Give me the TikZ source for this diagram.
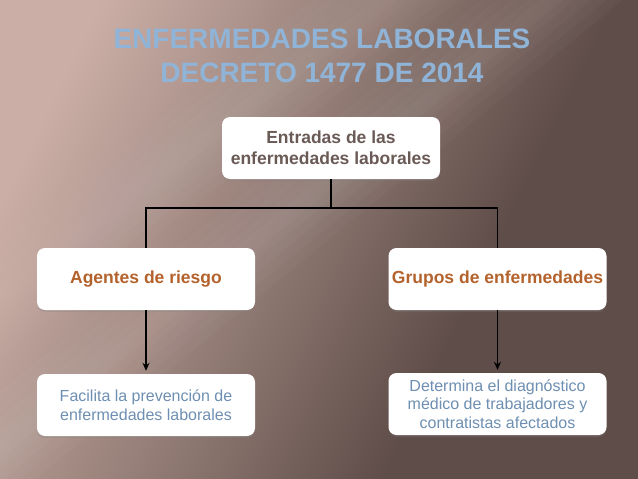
\documentclass[tikz,border=0pt]{standalone}
\usepackage{fontspec}
\setmainfont{Liberation Sans}
\usetikzlibrary{arrows.meta,shadows,calc}
\definecolor{bglight}{HTML}{CBAFA7}
\definecolor{bgmid}{HTML}{978079}
\definecolor{bgdark}{HTML}{5F4D49}
\definecolor{titleblue}{HTML}{90B4D7}
\definecolor{boxtext}{HTML}{6A5A56}
\definecolor{orangetext}{HTML}{B4622C}
\definecolor{bluetext}{HTML}{6E8FB1}
\pgfdeclareverticalshading{bgshade}{100bp}{color(0bp)=(bgdark); color(36bp)=(bgdark); color(56bp)=(bgmid); color(76bp)=(bglight); color(100bp)=(bglight)}
\begin{document}
\begin{tikzpicture}[x=1pt,y=-1pt,
  box/.style={fill=white, rounded corners=8pt, minimum width=218pt, minimum height=62pt,
    align=center, inner sep=0pt,
    drop shadow={opacity=0.25, shadow xshift=0pt, shadow yshift=-2pt}},
  headtext/.style={font=\bfseries\fontsize{17.5}{21}\selectfont, text=boxtext},
  midtext/.style={font=\bfseries\fontsize{17.5}{21}\selectfont, text=orangetext},
  lowtext/.style={font=\fontsize{16}{18.5}\selectfont, text=bluetext},
  conn/.style={black, line width=1.5pt},
  arr/.style={black, line width=1.5pt, -{Stealth[length=8pt,width=7pt]}, shorten >=3pt}]
% background
\useasboundingbox (0,0) rectangle (638,479);
\shade[shading=bgshade, shading angle=64] (0,0) rectangle (638,479);
\begin{scope}
\clip (0,0) rectangle (638,479);
\foreach \w in {90,70,50,30,15}{
  \draw[white, opacity=0.025, line width=\w pt] (-100,531) -- (760,-170);
  \draw[white, opacity=0.02, line width=\w pt] (-100,376) -- (560,-135);
}
\end{scope}
% title
\node (title) at (322,56) [align=center, text=titleblue,
  font=\bfseries\fontsize{28}{34}\selectfont] {ENFERMEDADES LABORALES\\DECRETO 1477 DE 2014};
% boxes
\node[box, headtext] (T) at (331,148) {Entradas de las\\enfermedades laborales};
\node[box, midtext] (L) at (146,279) {Agentes de riesgo};
\node[box, midtext] (R) at (497.5,279) {Grupos de enfermedades};
\node[box, lowtext] (BL) at (146,405) {Facilita la prevención de\\enfermedades laborales};
\node[box, lowtext] (BR) at (497.5,404) {Determina el diagnóstico\\médico de trabajadores y\\contratistas afectados};
% connectors
\coordinate (J) at ($(T.south)+(0,29)$);
\draw[conn] (T.south) -- (J) -| (L.north);
\draw[conn] (J) -| (R.north);
\draw[arr] (L.south) -- (BL.north);
\draw[arr] (R.south) -- (BR.north);
\end{tikzpicture}
\end{document}
